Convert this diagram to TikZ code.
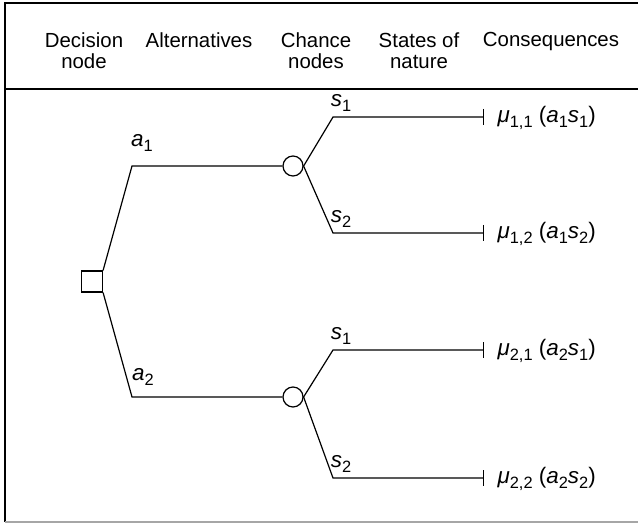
\documentclass[tikz,border=0pt]{standalone}
\usepackage{fontspec}
\setmainfont{Liberation Sans}
\usetikzlibrary{arrows.meta}
\tikzset{
  dec/.style={draw,rectangle,minimum size=10.5pt,inner sep=0pt},
  chance/.style={draw,circle,minimum size=10pt,inner sep=0pt,fill=white},
  head/.style={align=center,anchor=north,inner sep=0pt,font=\fontsize{10.2}{10.8}\selectfont},
  lbl/.style={inner sep=0pt,font=\fontsize{11.2}{11.6}\selectfont},
}
\newcommand{\vi}[1]{\textit{#1}}
\newcommand{\sub}[1]{\raisebox{-0.45ex}{\fontsize{8.2}{8.4}\selectfont #1}}
\begin{document}
\begin{tikzpicture}[x=0.5pt,y=-0.5pt,line width=0.6pt]
  \useasboundingbox (0,0) rectangle (638,524);
  % frame
  \draw (638,3) -- (5,3) -- (5,522);
  \draw[gray!70] (5,522) -- (638,522);
  \draw (5,89) -- (638,89);
  % headings
  \node[head] (hdec) at (84,32) {Decision\\node};
  \node[head] (halt) at (199,32) {Alternatives};
  \node[head] (hcha) at (316,32) {Chance\\nodes};
  \node[head] (hsta) at (419,32) {States of\\nature};
  \node[head] (hcon) at (551,32) {Consequences};
  % decision node and alternatives
  \node[dec] (d) at (92,281.5) {};
  \coordinate (k1) at (132,166);
  \coordinate (k2) at (132,397);
  \node[chance] (c1) at (293,166) {};
  \node[chance] (c2) at (293,397) {};
  \draw (d.north east) -- (k1) -- (c1);
  \draw (d.south east) -- (k2) -- (c2);
  \node[lbl] (la1) at (142,143) {\vi{a}\sub{1}};
  \node[lbl] (la2) at (143,377) {\vi{a}\sub{2}};
  % states of nature and consequences
  \foreach \i/\j/\y/\cn in {1/1/117/c1, 1/2/233/c1, 2/1/350/c2, 2/2/478/c2} {
    \coordinate (t\i\j) at (333,\y);
    \coordinate (e\i\j) at (484,\y);
    \draw[-{Bar[width=8pt]}] (\cn.east) -- (t\i\j) -- (e\i\j);
    \node[lbl,anchor=south] (s\i\j) at (341,{\y-5}) {\vi{s}\sub{\j}};
    \node[lbl,anchor=west] (u\i\j) at (497,{\y+1}) {\vi{μ}\sub{\i,\j} (\vi{a}\sub{\i}\vi{s}\sub{\j})};
  }
\end{tikzpicture}
\end{document}
